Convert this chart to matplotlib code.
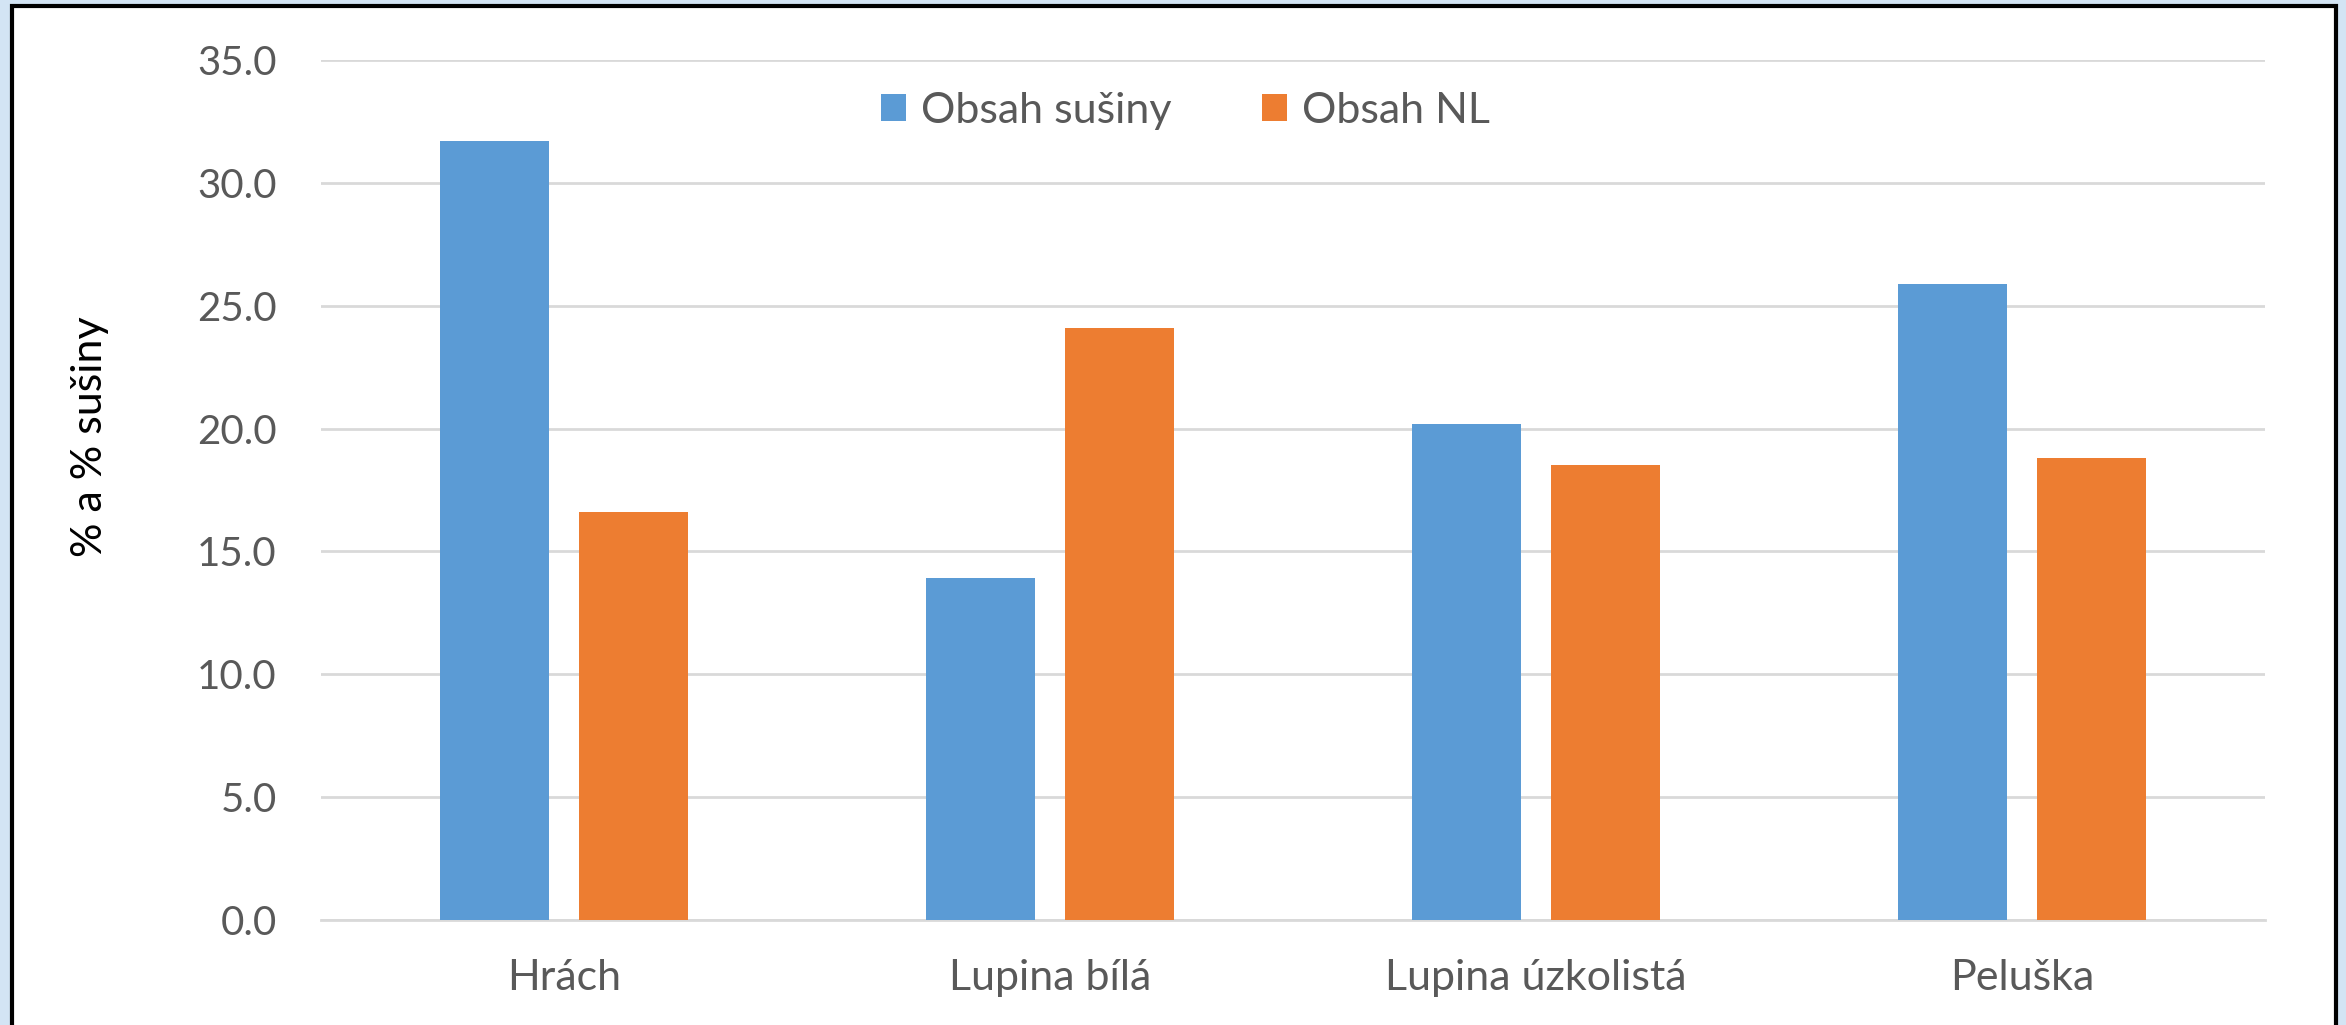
import numpy as np
import matplotlib
matplotlib.use('Agg')
import matplotlib.pyplot as plt
from matplotlib.patches import Rectangle

categories = ['Hrách', 'Lupina bílá', 'Lupina úzkolistá', 'Peluška']
susina = [31.7, 13.9, 20.2, 25.9]
nl = [16.6, 24.1, 18.5, 18.8]
series_names = ['Obsah sušiny', 'Obsah NL']
yticks = [0, 5, 10, 15, 20, 25, 30, 35]

BLUE = '#5B9BD5'
ORANGE = '#ED7D31'
GRAY = '#595959'

plt.rcParams['font.family'] = ['Lato', 'DejaVu Sans']

fig = plt.figure(figsize=(23.46, 10.25), dpi=100)
fig.patch.set_facecolor('#d3e4f4')

# white chart area with black frame, drawn below the axes
frame = Rectangle((12 / 2346, -0.01), (2336 - 12) / 2346, 1 - 6 / 1025 + 0.01,
                  transform=fig.transFigure, facecolor='white',
                  edgecolor='black', linewidth=3, zorder=-5)
fig.patches.append(frame)

ax = fig.add_axes([321 / 2346, 1 - 920 / 1025, (2265 - 321) / 2346, (920 - 60) / 1025])
ax.set_facecolor('none')
ax.set_zorder(2)

x = np.arange(len(categories))
width = 0.224
ax.bar(x - 0.143, susina, width, color=BLUE, label=series_names[0], zorder=3)
ax.bar(x + 0.143, nl, width, color=ORANGE, label=series_names[1], zorder=3)

ax.set_xlim(-0.5, len(categories) - 0.5)
ax.set_ylim(0, 35)
ax.set_yticks(yticks)
ax.set_yticklabels([f'{v:.1f}' for v in yticks])
ax.set_xticks(x)
ax.set_xticklabels(categories)
ax.tick_params(axis='both', length=0, colors=GRAY)
ax.tick_params(axis='y', pad=32, labelsize=29)
ax.tick_params(axis='x', pad=28, labelsize=31)

ax.grid(axis='y', color='#D9D9D9', linewidth=2, zorder=0)
for side in ['top', 'right', 'left']:
    ax.spines[side].set_visible(False)
ax.spines['bottom'].set_color('#D9D9D9')
ax.spines['bottom'].set_linewidth(2)

fig.text(90 / 2346, 1 - 437 / 1025, '% a % sušiny', rotation=90,
         ha='center', va='center', fontsize=31, color='black')

leg = ax.legend(loc='center', bbox_to_anchor=(1185 / 2346, 1 - 111 / 1025),
                bbox_transform=fig.transFigure, ncol=2, frameon=False,
                fontsize=31, handlelength=0.6, handleheight=0.6,
                handletextpad=0.33, columnspacing=2.1)
for t in leg.get_texts():
    t.set_color(GRAY)

fig.savefig('out.png', dpi=100, facecolor=fig.get_facecolor())
